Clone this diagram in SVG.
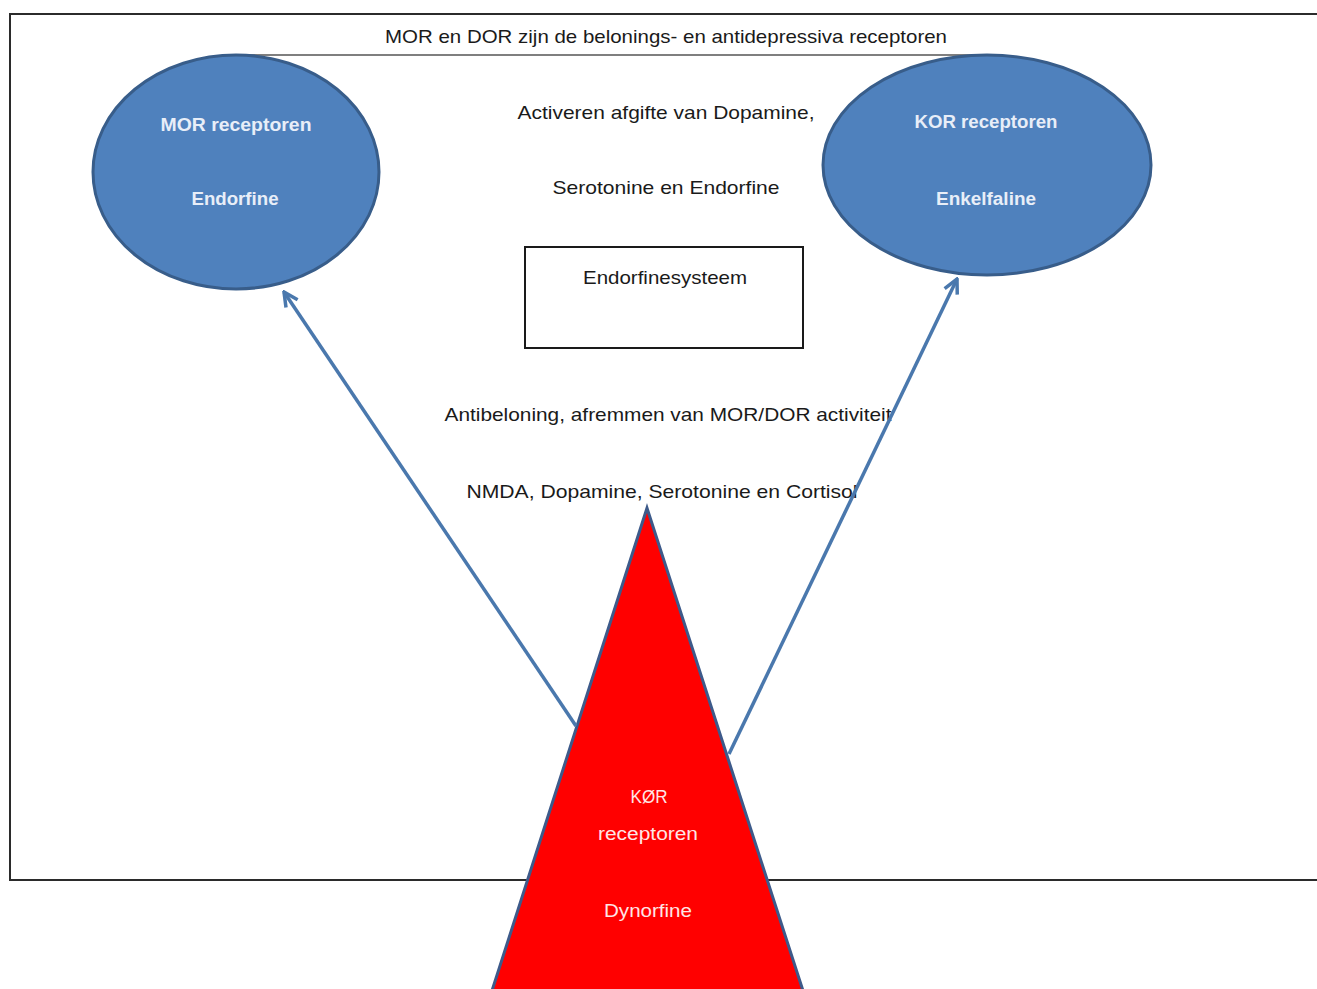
<svg xmlns="http://www.w3.org/2000/svg" width="1317" height="989" viewBox="0 0 1317 989">
<style>
.lbl{font-family:"Liberation Sans",Arial,sans-serif;font-size:19px;fill:#1a1a1a;text-anchor:middle}
.wt{font-family:"Liberation Sans",Arial,sans-serif;font-size:18px;font-weight:bold;fill:#e8eef8;text-anchor:middle}
.rt{font-family:"Liberation Sans",Arial,sans-serif;font-size:18px;fill:#ffe6e6;text-anchor:middle}
.frame{stroke:#2b2b2b;stroke-width:2;fill:none}
.oval{fill:#4f81bd;stroke:#385d8a;stroke-width:3}
.arr{stroke:#4a78ad;stroke-width:3.5;fill:none;marker-end:url(#ah)}
</style>
<defs>
<marker id="ah" viewBox="0 0 10 10" refX="9" refY="5" markerWidth="5" markerHeight="5" orient="auto" markerUnits="strokeWidth">
<path d="M1,1 L9,5 L1,9" fill="none" stroke="#4a78ad" stroke-width="2"/>
</marker>
</defs>
<rect width="1317" height="989" fill="#ffffff"/>
<g id="frame">
<path class="frame" d="M1317,14 L10,14 L10,880 L1317,880"/>
</g>
<g id="connectors">
<line x1="236" y1="55" x2="987" y2="55" stroke="#555" stroke-width="1.5"/>
</g>
<g id="title">
<text class="lbl" x="666" y="43" textLength="562" lengthAdjust="spacingAndGlyphs">MOR en DOR zijn de belonings- en antidepressiva receptoren</text>
</g>
<g id="mor">
<ellipse class="oval" cx="236" cy="172" rx="143" ry="117"/>
<text class="wt" x="236" y="131" textLength="151" lengthAdjust="spacingAndGlyphs">MOR receptoren</text>
<text class="wt" x="235" y="205" textLength="87" lengthAdjust="spacingAndGlyphs">Endorfine</text>
</g>
<g id="kor">
<ellipse class="oval" cx="987" cy="165" rx="164" ry="110"/>
<text class="wt" x="986" y="128" textLength="143" lengthAdjust="spacingAndGlyphs">KOR receptoren</text>
<text class="wt" x="986" y="205" textLength="100" lengthAdjust="spacingAndGlyphs">Enkelfaline</text>
</g>
<g id="activeren">
<text class="lbl" x="666" y="119" textLength="297" lengthAdjust="spacingAndGlyphs">Activeren afgifte van Dopamine,</text>
<text class="lbl" x="666" y="194" textLength="227" lengthAdjust="spacingAndGlyphs">Serotonine en Endorfine</text>
</g>
<g id="endorfinesysteem">
<rect x="525" y="247" width="278" height="101" fill="#ffffff" stroke="#1a1a1a" stroke-width="2"/>
<text class="lbl" x="665" y="284" textLength="164" lengthAdjust="spacingAndGlyphs">Endorfinesysteem</text>
</g>
<g id="antibeloning">
<text class="lbl" x="668" y="421" textLength="447" lengthAdjust="spacingAndGlyphs">Antibeloning, afremmen van MOR/DOR activiteit</text>
<text class="lbl" x="662" y="498" textLength="391" lengthAdjust="spacingAndGlyphs">NMDA, Dopamine, Serotonine en Cortisol</text>
</g>
<g id="dynorfine">
<polygon points="647,508 489,1000 806,1000" fill="#ff0000" stroke="#3d5a8a" stroke-width="3"/>
<text class="rt" x="649" y="803" textLength="37" lengthAdjust="spacingAndGlyphs">KØR</text>
<text class="rt" x="648" y="840" textLength="100" lengthAdjust="spacingAndGlyphs">receptoren</text>
<text class="rt" x="648" y="917" textLength="88" lengthAdjust="spacingAndGlyphs">Dynorfine</text>
</g>
<g id="arrows">
<line class="arr" x1="576" y1="726" x2="284" y2="292"/>
<line class="arr" x1="729" y1="754" x2="957" y2="279"/>
</g>
</svg>
